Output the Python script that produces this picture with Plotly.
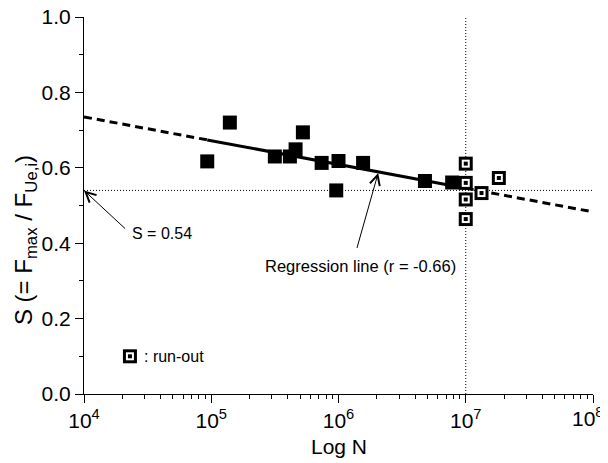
import math
import plotly.graph_objects as go

# ---------------- data ----------------
failed_N = [9.3e4, 1.40e5, 3.16e5, 4.15e5, 4.60e5, 5.25e5, 7.37e5, 1.0e6, 9.6e5, 1.56e6, 4.78e6, 7.82e6]
failed_S = [0.617, 0.720, 0.630, 0.630, 0.649, 0.694, 0.613, 0.618, 0.540, 0.613, 0.565, 0.561]

runout_N = [1.0e7, 1.0e7, 1.0e7, 1.0e7, 1.33e7, 1.82e7]
runout_S = [0.611, 0.560, 0.516, 0.464, 0.533, 0.573]

reg_intercept = 0.987   # S = a + b * log10(N)
reg_slope = -0.063
reg_solid_N = [9.3e4, 1.0e7]
reg_dash_left_N = [1e4, 9.3e4]
reg_dash_right_N = [1e7, 1e8]

S_limit = 0.54
N_limit = 1e7

x_tickvals = [1e4, 1e5, 1e6, 1e7, 1e8]
x_ticktext = ["10<sup>4</sup>", "10<sup>5</sup>", "10<sup>6</sup>", "10<sup>7</sup>", ""]
x_last_label = "10<sup>8</sup>"   # drawn separately so it is not cut at the right edge
y_tickvals = [0.0, 0.2, 0.4, 0.6, 0.8, 1.0]
y_ticktext = ["0.0", "0.2", "0.4", "0.6", "0.8", "1.0"]


def reg(ns):
    return [reg_intercept + reg_slope * math.log10(n) for n in ns]


FONT = "Liberation Sans, Arial, sans-serif"
fig = go.Figure()

# reference dotted lines
fig.add_trace(go.Scatter(x=[1e4, 1e8], y=[S_limit, S_limit], mode="lines",
                         line=dict(color="black", width=1, dash="1px,2px"), hoverinfo="skip"))
fig.add_trace(go.Scatter(x=[N_limit, N_limit], y=[0, 1], mode="lines",
                         line=dict(color="black", width=1, dash="1px,2px"), hoverinfo="skip"))

# regression line
for ns in (reg_dash_left_N, reg_dash_right_N):
    fig.add_trace(go.Scatter(x=ns, y=reg(ns), mode="lines",
                             line=dict(color="black", width=3, dash="8px,5px")))
fig.add_trace(go.Scatter(x=reg_solid_N, y=reg(reg_solid_N), mode="lines",
                         line=dict(color="black", width=3)))

# failed specimens
fig.add_trace(go.Scatter(x=failed_N, y=failed_S, mode="markers",
                         marker=dict(symbol="square", size=14, color="black", line=dict(width=0))))


# run-outs (layered symbol)
def runout_layers(xs, ys):
    for sz, col in ((14, "black"), (8, "white"), (4, "black")):
        fig.add_trace(go.Scatter(x=xs, y=ys, mode="markers",
                                 marker=dict(symbol="square", size=sz, color=col, line=dict(width=0))))


runout_layers(runout_N, runout_S)
# legend symbol
runout_layers([10 ** 4.361], [0.1])

ann_font = dict(family=FONT, size=16, color="black")
annotations = [
    dict(text="S (= F<sub>max</sub> / F<sub>Ue,i</sub>)", textangle=-90, xref="paper", yref="paper",
         x=(25 - 84) / 509, y=(394 - 240) / 377.3, xanchor="center", yanchor="middle",
         showarrow=False, font=dict(family=FONT, size=24, color="black")),
    dict(text="Log N", xref="paper", yref="paper", x=0.5, y=(394 - 447) / 377.3,
         xanchor="center", yanchor="middle", showarrow=False,
         font=dict(family=FONT, size=21, color="black")),
    dict(text=x_last_label, xref="paper", yref="paper", x=(606 - 84) / 509, y=(394 - 402) / 377.3,
         xanchor="right", yanchor="top", showarrow=False,
         font=dict(family=FONT, size=21, color="black")),
    dict(text="S = 0.54", x=4.361, y=0.426, xref="x", yref="y", xanchor="left", yanchor="middle",
         showarrow=False, font=ann_font),
    dict(text="", x=4.0, y=0.54, ax=4.335, ay=0.435, xref="x", yref="y", axref="x", ayref="y",
         showarrow=True, arrowhead=5, arrowsize=2, arrowwidth=1, arrowcolor="black"),
    dict(text="Regression line (r = -0.66)", x=5.406, y=0.339, xref="x", yref="y",
         xanchor="left", yanchor="middle", showarrow=False,
         font=dict(family=FONT, size=16.5, color="black")),
    dict(text="", x=6.312, y=0.5865, ax=6.142, ay=0.3835, xref="x", yref="y", axref="x", ayref="y",
         showarrow=True, arrowhead=5, arrowsize=2, arrowwidth=1, arrowcolor="black"),
    dict(text=": run-out", x=4.453, y=0.1, xref="x", yref="y", xanchor="left", yanchor="middle",
         showarrow=False, font=ann_font),
]

minor_x = [m * 10 ** e for e in range(4, 8) for m in range(2, 10)]

# the page body adds an 8px offset; figure is sized/margined so the plot area
# lands at x 84..593, y 17..394 of the 608x463 window
fig.update_layout(
    width=600, height=455,
    margin=dict(l=76, r=15, t=9, b=69, autoexpand=False),
    plot_bgcolor="white", paper_bgcolor="white",
    showlegend=False,
    font=dict(family=FONT, size=21, color="black"),
    annotations=annotations,
    xaxis=dict(type="log", range=[4, 8], showgrid=False, zeroline=False, automargin=False,
               showline=True, linecolor="black", linewidth=1, ticklabeloverflow="allow",
               ticks="outside", ticklen=8, tickwidth=1, tickcolor="black",
               tickmode="array", tickvals=x_tickvals, ticktext=x_ticktext,
               tickfont=dict(family=FONT, size=21, color="black"),
               minor=dict(tickmode="array", tickvals=minor_x, ticks="outside", ticklen=4,
                          tickcolor="black", showgrid=False)),
    yaxis=dict(range=[0, 1], showgrid=False, zeroline=False, automargin=False,
               showline=True, linecolor="black", linewidth=1, ticklabeloverflow="allow",
               ticks="outside", ticklen=8, tickwidth=1, tickcolor="black",
               tickmode="array", tickvals=y_tickvals, ticktext=y_ticktext,
               tickfont=dict(family=FONT, size=21, color="black"),
               minor=dict(tickmode="array", tickvals=[0.1, 0.3, 0.5, 0.7, 0.9], ticks="outside",
                          ticklen=4, tickcolor="black", showgrid=False)),
)

fig.write_html("out.html")
